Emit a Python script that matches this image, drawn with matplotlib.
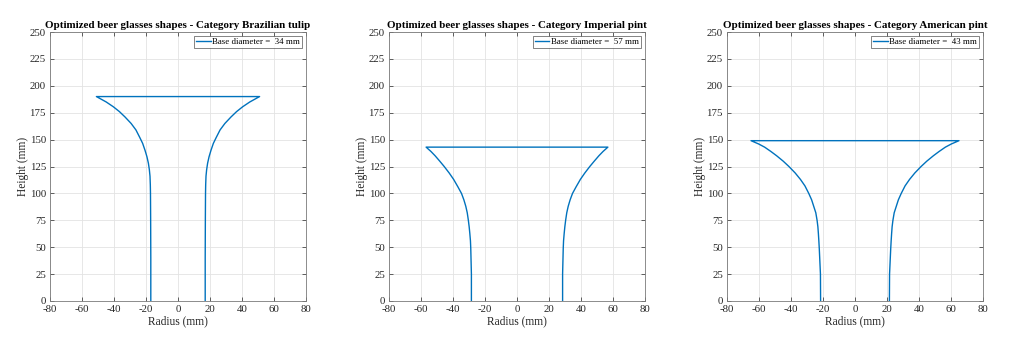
import matplotlib
matplotlib.use("Agg")
import matplotlib.pyplot as plt
import numpy as np

# ---- data (right-hand profile of each glass: height, radius) ----
categories = ["Brazilian tulip", "Imperial pint", "American pint"]
base_diameters = [34, 57, 43]

tulip_h = [0, 40, 77, 100, 108, 116, 122, 128, 134, 140, 146.5, 152, 159, 165, 171, 176, 180.5, 185, 190]
tulip_r = [17.0, 17.0, 17.1, 17.2, 17.3, 17.5, 17.9, 18.5, 19.4, 20.6, 22.1, 23.9, 26.3, 29.3, 33.1, 36.6, 40.4, 44.9, 51.0]

imperial_h = [0, 25, 49, 56, 63, 69, 75, 82, 88, 94, 100, 106, 113, 119, 125, 130, 135, 139, 143]
imperial_r = [28.5, 28.5, 28.9, 29.1, 29.5, 29.9, 30.4, 31.1, 32.0, 33.2, 34.7, 36.9, 39.6, 42.4, 45.5, 48.3, 51.2, 53.8, 56.8]

american_h = [0, 25, 48, 56, 63, 69, 75, 82, 88, 94, 100, 107, 113, 119, 125, 130, 135, 139, 143, 146, 149]
american_r = [21.5, 21.6, 22.3, 22.6, 22.9, 23.2, 23.7, 24.5, 25.8, 27.1, 28.9, 31.3, 34.1, 37.4, 41.3, 44.9, 49.0, 52.6, 56.5, 60.3, 65.0]

profiles = [(tulip_h, tulip_r), (imperial_h, imperial_r), (american_h, american_r)]

x_ticks = [-80, -60, -40, -20, 0, 20, 40, 60, 80]
y_ticks = [0, 25, 50, 75, 100, 125, 150, 175, 200, 225, 250]

plt.rcParams['font.family'] = ['Liberation Serif', 'DejaVu Serif']
plt.rcParams['axes.unicode_minus'] = False

fig = plt.figure(figsize=(10.22, 3.54), dpi=100)
lefts = [50 / 1022, 389 / 1022, 727 / 1022]
bottom = 53 / 354
width = 256 / 1022
height = 269 / 354

blue = '#0072BD'
axcol = '#262626'

for i, (cat, d, (h, r)) in enumerate(zip(categories, base_diameters, profiles)):
    ax = fig.add_axes([lefts[i], bottom, width, height])
    h = np.asarray(h, float)
    r = np.asarray(r, float)
    # left side from bottom to top, then right side from top to bottom
    xs = np.concatenate([-r, r[::-1]])
    ys = np.concatenate([h, h[::-1]])
    ax.plot(xs, ys, color=blue, lw=1.0, label=f"Base diameter =  {d} mm")
    ax.set_xlim(-80, 80)
    ax.set_ylim(0, 250)
    ax.set_xticks(x_ticks)
    ax.set_yticks(y_ticks)
    ax.grid(True, color='#e3e3e3', lw=0.6)
    ax.set_axisbelow(True)
    ax.tick_params(direction='in', length=3, width=0.5, colors=axcol,
                   labelsize=7.8, top=True, right=True)
    ax.tick_params(axis='x', pad=3)
    ax.tick_params(axis='y', pad=3)
    for s in ax.spines.values():
        s.set_color('#7a7a7a')
        s.set_linewidth(0.6)
    ax.set_title(f"Optimized beer glasses shapes - Category {cat}",
                 fontsize=7.9, fontweight='bold', pad=3, color='black')
    ax.set_xlabel("Radius (mm)", fontsize=8.3, color=axcol, labelpad=1)
    ax.set_ylabel("Height (mm)", fontsize=8.3, color=axcol, labelpad=0)
    leg = ax.legend(loc='upper right', fontsize=6.4, frameon=True, fancybox=False,
                    handlelength=1.6, borderpad=0.25, handletextpad=0.2,
                    borderaxespad=0.4)
    leg.get_frame().set_edgecolor('#262626')
    leg.get_frame().set_linewidth(0.5)

fig.savefig("out.png", dpi=100)
